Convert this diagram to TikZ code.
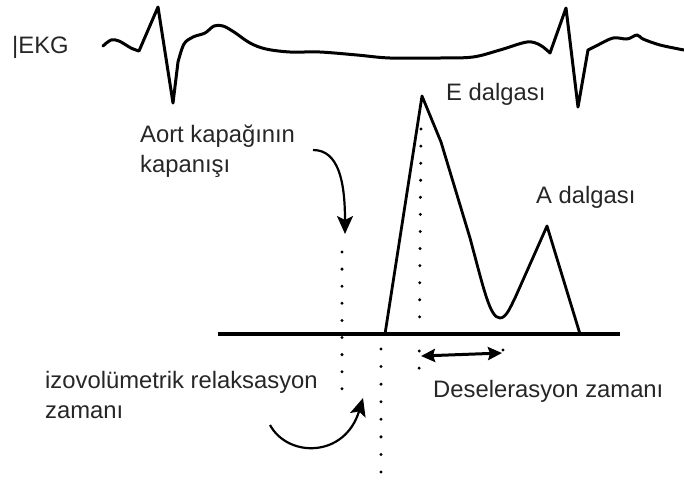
\documentclass[tikz,border=0pt]{standalone}
\usepackage{fontspec}
\setmainfont{Liberation Sans}
\usetikzlibrary{arrows.meta}
\begin{document}
\begin{tikzpicture}[x=1pt,y=-1pt,
  lbl/.style={anchor=base west,inner sep=0pt,text=black!85,font=\fontsize{23.8}{28}\selectfont},
  trace/.style={line width=3pt,line join=round,line cap=round},
  wave/.style={line width=2.8pt,line join=round},
  dots/.style={line width=3.3pt,line cap=round,dash pattern=on 0pt off #1},
  dots/.default=17.1pt,
  curvearrow/.style={line width=2.2pt,-{Stealth[length=18pt,width=16pt,inset=4pt]}},
  dblarrow/.style={line width=3pt,{Stealth[length=14pt,width=13pt,inset=2pt]}-{Stealth[length=14pt,width=13pt,inset=2pt]}}
]
\useasboundingbox (0,0) rectangle (684,483);

% ECG trace
\draw[trace] plot[smooth,tension=0.55] coordinates {(103,46) (111,40) (119,41) (131,48) (139,51)}
  -- (158,7) -- (173,103)
  -- plot[smooth,tension=0.55] coordinates {(178,62) (184,44) (193,37) (205,33) (214,26) (223,26) (234,32) (250,43) (266,49) (290,52) (320,52) (357,55) (390,58) (440,58) (473,57) (500,50) (527,42) (540,45) (550,53)}
  -- (566,8) -- (578,107)
  -- plot[smooth,tension=0.55] coordinates {(588,50) (596,46) (613,38) (627,39) (637,35) (643,39) (660,45) (684,50)};

% baseline
\coordinate (b1) at (218,334);
\coordinate (b2) at (620,334);
\draw[line width=3.4pt] (b1) -- (b2);

% Doppler waves
\coordinate (efoot) at (385,334);
\coordinate (epeak) at (422,96);
\coordinate (apeak) at (547,226);
\coordinate (afoot) at (580,334);
\draw[wave] (efoot) -- (epeak) -- (441,142) -- (470,238)
  .. controls (484,290) and (490,318) .. (500,318)
  .. controls (506,318) and (510,308) .. (515,298) -- (apeak) -- (afoot);

% dotted guide lines
\coordinate (pA1) at (342,252); \coordinate (pA2) at (342,390);
\draw[dots] (pA1) -- (pA2);
\coordinate (pB1) at (381,349); \coordinate (pB2) at (381,472);
\draw[dots=17.57pt] (pB1) -- (pB2);
\coordinate (pC1) at (421,129); \coordinate (pC2) at (419,385);
\draw[dots=17.08pt] (pC1) -- (pC2);
\coordinate (pD1) at (503,350); \coordinate (pD2) at (508,368);
\draw[dots=18.7pt] (pD1) -- (pD2);

% labels
\node[lbl] (ekg) at (12,53) {|EKG};
\node[lbl] (ew) at (446,100) {E dalgası};
\node[lbl] (aort1) at (140,142) {Aort kapağının};
\node[lbl] (aort2) at (140,172) {kapanışı};
\node[lbl] (aw) at (536,203) {A dalgası};
\node[lbl] (izo1) at (45,388) {izovolümetrik relaksasyon};
\node[lbl] (izo2) at (45,418) {zamanı};
\node[lbl] (dec) at (433,397) {Deselerasyon zamanı};

% curved arrows
\coordinate (a1s) at (313,150);
\coordinate (a1e) at (345,234);
\draw[curvearrow] (a1s) .. controls (338,150) and (345,180) .. (a1e);
\coordinate (a2s) at (270,425);
\coordinate (a2e) at (363,398);
\draw[curvearrow] (a2s) .. controls (288,458) and (345,458) .. (a2e);

% deceleration double arrow
\coordinate (d1) at (421,356);
\coordinate (d2) at (502,353);
\draw[dblarrow] (d1) -- (d2);
\end{tikzpicture}
\end{document}
